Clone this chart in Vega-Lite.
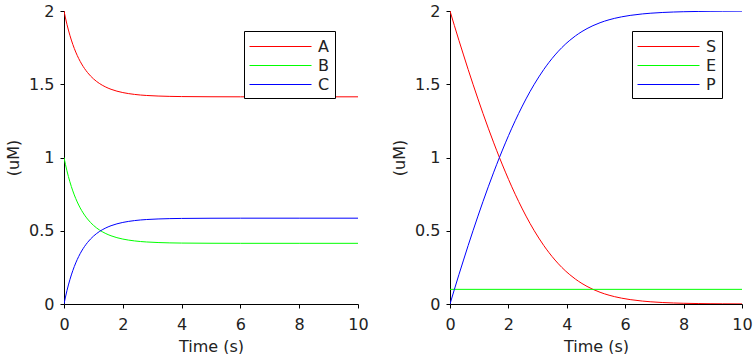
{
  "$schema": "https://vega.github.io/schema/vega-lite/v6.json",
  "padding": {"left": 5, "top": 3, "right": 0, "bottom": 0},
  "datasets": {
    "left": [
      {"t": 0, "series": "A", "value": 2}, {"t": 0.05, "series": "A", "value": 1.9524}, {"t": 0.1, "series": "A", "value": 1.9092}, {"t": 0.15, "series": "A", "value": 1.87}, {"t": 0.2, "series": "A", "value": 1.8342}, {"t": 0.3, "series": "A", "value": 1.7718}, {"t": 0.4, "series": "A", "value": 1.7196}, {"t": 0.5, "series": "A", "value": 1.6756}, {"t": 0.6, "series": "A", "value": 1.6384}, {"t": 0.8, "series": "A", "value": 1.5799}, {"t": 1.0, "series": "A", "value": 1.5373}, {"t": 1.2, "series": "A", "value": 1.506}, {"t": 1.4, "series": "A", "value": 1.4829}, {"t": 1.6, "series": "A", "value": 1.4656}, {"t": 1.8, "series": "A", "value": 1.4528}, {"t": 2.0, "series": "A", "value": 1.4432}, {"t": 2.4, "series": "A", "value": 1.4306}, {"t": 2.8, "series": "A", "value": 1.4235}, {"t": 3.2, "series": "A", "value": 1.4195}, {"t": 3.6, "series": "A", "value": 1.4172}, {"t": 4, "series": "A", "value": 1.4159}, {"t": 5, "series": "A", "value": 1.4146}, {"t": 6, "series": "A", "value": 1.4142}, {"t": 8, "series": "A", "value": 1.4142}, {"t": 10, "series": "A", "value": 1.4142},
      {"t": 0, "series": "B", "value": 1}, {"t": 0.05, "series": "B", "value": 0.9524}, {"t": 0.1, "series": "B", "value": 0.9092}, {"t": 0.15, "series": "B", "value": 0.87}, {"t": 0.2, "series": "B", "value": 0.8342}, {"t": 0.3, "series": "B", "value": 0.7718}, {"t": 0.4, "series": "B", "value": 0.7196}, {"t": 0.5, "series": "B", "value": 0.6756}, {"t": 0.6, "series": "B", "value": 0.6384}, {"t": 0.8, "series": "B", "value": 0.5799}, {"t": 1.0, "series": "B", "value": 0.5373}, {"t": 1.2, "series": "B", "value": 0.506}, {"t": 1.4, "series": "B", "value": 0.4829}, {"t": 1.6, "series": "B", "value": 0.4656}, {"t": 1.8, "series": "B", "value": 0.4528}, {"t": 2.0, "series": "B", "value": 0.4432}, {"t": 2.4, "series": "B", "value": 0.4306}, {"t": 2.8, "series": "B", "value": 0.4235}, {"t": 3.2, "series": "B", "value": 0.4195}, {"t": 3.6, "series": "B", "value": 0.4172}, {"t": 4, "series": "B", "value": 0.4159}, {"t": 5, "series": "B", "value": 0.4146}, {"t": 6, "series": "B", "value": 0.4142}, {"t": 8, "series": "B", "value": 0.4142}, {"t": 10, "series": "B", "value": 0.4142},
      {"t": 0, "series": "C", "value": 0}, {"t": 0.05, "series": "C", "value": 0.0476}, {"t": 0.1, "series": "C", "value": 0.0908}, {"t": 0.15, "series": "C", "value": 0.13}, {"t": 0.2, "series": "C", "value": 0.1658}, {"t": 0.3, "series": "C", "value": 0.2282}, {"t": 0.4, "series": "C", "value": 0.2804}, {"t": 0.5, "series": "C", "value": 0.3244}, {"t": 0.6, "series": "C", "value": 0.3616}, {"t": 0.8, "series": "C", "value": 0.4201}, {"t": 1.0, "series": "C", "value": 0.4627}, {"t": 1.2, "series": "C", "value": 0.494}, {"t": 1.4, "series": "C", "value": 0.5171}, {"t": 1.6, "series": "C", "value": 0.5344}, {"t": 1.8, "series": "C", "value": 0.5472}, {"t": 2.0, "series": "C", "value": 0.5568}, {"t": 2.4, "series": "C", "value": 0.5694}, {"t": 2.8, "series": "C", "value": 0.5765}, {"t": 3.2, "series": "C", "value": 0.5805}, {"t": 3.6, "series": "C", "value": 0.5828}, {"t": 4, "series": "C", "value": 0.5841}, {"t": 5, "series": "C", "value": 0.5854}, {"t": 6, "series": "C", "value": 0.5858}, {"t": 8, "series": "C", "value": 0.5858}, {"t": 10, "series": "C", "value": 0.5858}
    ],
    "right": [
      {"t": 0, "series": "S", "value": 2}, {"t": 0.151, "series": "S", "value": 1.9}, {"t": 0.305, "series": "S", "value": 1.8}, {"t": 0.463, "series": "S", "value": 1.7}, {"t": 0.623, "series": "S", "value": 1.6}, {"t": 0.788, "series": "S", "value": 1.5}, {"t": 0.957, "series": "S", "value": 1.4}, {"t": 1.131, "series": "S", "value": 1.3}, {"t": 1.311, "series": "S", "value": 1.2}, {"t": 1.498, "series": "S", "value": 1.1}, {"t": 1.693, "series": "S", "value": 1.0}, {"t": 1.899, "series": "S", "value": 0.9}, {"t": 2.116, "series": "S", "value": 0.8}, {"t": 2.35, "series": "S", "value": 0.7}, {"t": 2.604, "series": "S", "value": 0.6}, {"t": 2.886, "series": "S", "value": 0.5}, {"t": 3.042, "series": "S", "value": 0.45}, {"t": 3.209, "series": "S", "value": 0.4}, {"t": 3.393, "series": "S", "value": 0.35}, {"t": 3.597, "series": "S", "value": 0.3}, {"t": 3.829, "series": "S", "value": 0.25}, {"t": 4.103, "series": "S", "value": 0.2}, {"t": 4.295, "series": "S", "value": 0.17}, {"t": 4.519, "series": "S", "value": 0.14}, {"t": 4.693, "series": "S", "value": 0.12}, {"t": 4.896, "series": "S", "value": 0.1}, {"t": 5.139, "series": "S", "value": 0.08}, {"t": 5.447, "series": "S", "value": 0.06}, {"t": 5.639, "series": "S", "value": 0.05}, {"t": 5.872, "series": "S", "value": 0.04}, {"t": 6.17, "series": "S", "value": 0.03}, {"t": 6.585, "series": "S", "value": 0.02}, {"t": 6.878, "series": "S", "value": 0.015}, {"t": 7.288, "series": "S", "value": 0.01}, {"t": 7.648, "series": "S", "value": 0.007}, {"t": 7.987, "series": "S", "value": 0.005}, {"t": 8.499, "series": "S", "value": 0.003}, {"t": 8.906, "series": "S", "value": 0.002}, {"t": 9.337, "series": "S", "value": 0.0013}, {"t": 10, "series": "S", "value": 0.0007},
      {"t": 0, "series": "E", "value": 0.1}, {"t": 10, "series": "E", "value": 0.1},
      {"t": 0, "series": "P", "value": 0}, {"t": 0.151, "series": "P", "value": 0.1}, {"t": 0.305, "series": "P", "value": 0.2}, {"t": 0.463, "series": "P", "value": 0.3}, {"t": 0.623, "series": "P", "value": 0.4}, {"t": 0.788, "series": "P", "value": 0.5}, {"t": 0.957, "series": "P", "value": 0.6}, {"t": 1.131, "series": "P", "value": 0.7}, {"t": 1.311, "series": "P", "value": 0.8}, {"t": 1.498, "series": "P", "value": 0.9}, {"t": 1.693, "series": "P", "value": 1.0}, {"t": 1.899, "series": "P", "value": 1.1}, {"t": 2.116, "series": "P", "value": 1.2}, {"t": 2.35, "series": "P", "value": 1.3}, {"t": 2.604, "series": "P", "value": 1.4}, {"t": 2.886, "series": "P", "value": 1.5}, {"t": 3.042, "series": "P", "value": 1.55}, {"t": 3.209, "series": "P", "value": 1.6}, {"t": 3.393, "series": "P", "value": 1.65}, {"t": 3.597, "series": "P", "value": 1.7}, {"t": 3.829, "series": "P", "value": 1.75}, {"t": 4.103, "series": "P", "value": 1.8}, {"t": 4.295, "series": "P", "value": 1.83}, {"t": 4.519, "series": "P", "value": 1.86}, {"t": 4.693, "series": "P", "value": 1.88}, {"t": 4.896, "series": "P", "value": 1.9}, {"t": 5.139, "series": "P", "value": 1.92}, {"t": 5.447, "series": "P", "value": 1.94}, {"t": 5.639, "series": "P", "value": 1.95}, {"t": 5.872, "series": "P", "value": 1.96}, {"t": 6.17, "series": "P", "value": 1.97}, {"t": 6.585, "series": "P", "value": 1.98}, {"t": 6.878, "series": "P", "value": 1.985}, {"t": 7.288, "series": "P", "value": 1.99}, {"t": 7.648, "series": "P", "value": 1.993}, {"t": 7.987, "series": "P", "value": 1.995}, {"t": 8.499, "series": "P", "value": 1.997}, {"t": 8.906, "series": "P", "value": 1.998}, {"t": 9.337, "series": "P", "value": 1.9987}, {"t": 10, "series": "P", "value": 1.9993}
    ]
  },
  "spacing": 22,
  "resolve": {"scale": {"color": "independent"}, "legend": {"color": "independent"}},
  "hconcat": [
    {
      "data": {"name": "left"},
      "width": 294,
      "height": 293,
      "mark": {"type": "line", "strokeWidth": 1, "interpolate": "monotone", "clip": true},
      "encoding": {
        "x": {"field": "t", "type": "quantitative", "title": "Time (s)", "scale": {"domain": [0, 10], "nice": false}, "axis": {"values": [0, 2, 4, 6, 8, 10]}},
        "y": {"field": "value", "type": "quantitative", "title": "(uM)", "scale": {"domain": [0, 2], "nice": false}, "axis": {"values": [0, 0.5, 1, 1.5, 2], "format": "~g"}},
        "color": {"field": "series", "type": "nominal", "scale": {"domain": ["A", "B", "C"], "range": ["#ff0000", "#00ff00", "#0000ff"]}, "legend": {"title": null, "orient": "none", "legendX": 180, "legendY": 20}}
      }
    },
    {
      "data": {"name": "right"},
      "width": 292,
      "height": 293,
      "mark": {"type": "line", "strokeWidth": 1, "interpolate": "monotone", "clip": true},
      "encoding": {
        "x": {"field": "t", "type": "quantitative", "title": "Time (s)", "scale": {"domain": [0, 10], "nice": false}, "axis": {"values": [0, 2, 4, 6, 8, 10]}},
        "y": {"field": "value", "type": "quantitative", "title": "(uM)", "scale": {"domain": [0, 2], "nice": false}, "axis": {"values": [0, 0.5, 1, 1.5, 2], "format": "~g"}},
        "color": {"field": "series", "type": "nominal", "scale": {"domain": ["S", "E", "P"], "range": ["#ff0000", "#00ff00", "#0000ff"]}, "legend": {"title": null, "orient": "none", "legendX": 182, "legendY": 20}}
      }
    }
  ],
  "config": {
    "view": {"stroke": null},
    "font": "DejaVu Sans",
    "axis": {
      "grid": false,
      "domainColor": "#000000",
      "tickColor": "#000000",
      "tickSize": 4,
      "labelFontSize": 16,
      "labelColor": "#222222",
      "titleFontSize": 16,
      "titleFontWeight": "normal",
      "titleColor": "#222222",
      "labelPadding": 6,
      "labelFlush": false
    },
    "axisX": {"titlePadding": 6, "labelPadding": 8},
    "axisY": {"titlePadding": 7},
    "legend": {
      "symbolType": "M-1,0H5.2",
      "symbolSize": 400,
      "symbolStrokeWidth": 1,
      "labelFontSize": 16,
      "labelColor": "#222222",
      "strokeColor": "#000000",
      "fillColor": "#ffffff",
      "padding": 5,
      "rowPadding": 0,
      "labelOffset": 48,
      "cornerRadius": 0
    }
  }
}
